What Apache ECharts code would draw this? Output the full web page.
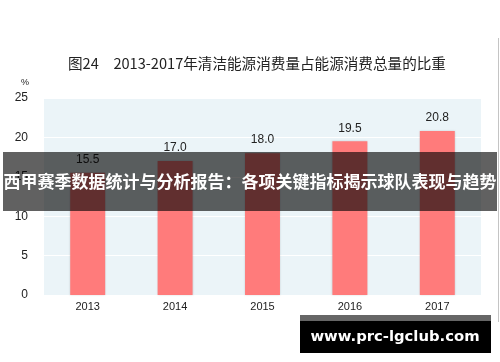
<!DOCTYPE html>
<html>
<head>
<meta charset="utf-8">
<script src="https://cdn.jsdelivr.net/npm/echarts@6/dist/echarts.min.js"></script>
<style>html,body{margin:0;padding:0;background:#fff}#c{width:500px;height:362px}</style>
</head>
<body>
<div id="c"></div>
<script>
const titleText = '图24　2013-2017年清洁能源消费量占能源消费总量的比重';
const categories = ['2013', '2014', '2015', '2016', '2017'];
const shareValues = [15.5, 17.0, 18.0, 19.5, 20.8];
const yTicks = [0, 5, 10, 15, 20, 25];
const unitLabel = '%';
const bannerText = '西甲赛季数据统计与分析报告：各项关键指标揭示球队表现与趋势';
const watermarkText = 'www.prc-lgclub.com';

const chart = echarts.init(document.getElementById('c'), null, {renderer: 'canvas'});
chart.setOption({
  animation: false,
  title: {
    text: titleText, left: 63, top: 51,
    textStyle: {fontSize: 14.6, fontWeight: 'normal', color: '#222', fontFamily: 'Noto Sans CJK SC'}
  },
  grid: {left: 44, right: 19, top: 98, bottom: 67, show: true, backgroundColor: '#ebf4f8', borderWidth: 0},
  xAxis: {
    type: 'category', data: categories,
    axisLine: {show: false}, axisTick: {show: false},
    axisLabel: {color: '#222', fontSize: 11, margin: 6, fontFamily: 'Liberation Sans'}
  },
  yAxis: {
    type: 'value', min: yTicks[0], max: yTicks[yTicks.length - 1], interval: 5,
    axisLine: {show: false}, axisTick: {show: false},
    splitLine: {lineStyle: {color: '#ffffff', width: 1}},
    axisLabel: {color: '#222', fontSize: 12, margin: 16, fontFamily: 'Liberation Sans'}
  },
  series: [{
    type: 'bar', data: shareValues, barWidth: '40%',
    itemStyle: {color: '#ff7b7b', shadowColor: 'rgba(0,0,0,0.15)', shadowBlur: 2},
    label: {show: true, position: 'top', distance: 7, color: '#222', fontSize: 12,
      fontFamily: 'Liberation Sans', formatter: p => p.value.toFixed(1)}
  }],
  graphic: [
    {type: 'text', left: 21, top: 78, style: {text: unitLabel, fontSize: 9, fill: '#222', fontFamily: 'Liberation Sans'}},
    {type: 'rect', shape: {x: 498, y: 38, width: 1, height: 284}, style: {fill: '#c4c4c4'}},
    {type: 'rect', z: 100, shape: {x: 3, y: 152, width: 494, height: 59}, style: {fill: 'rgba(0,0,0,0.62)'}},
    {type: 'text', z: 101, x: 250, y: 182, style: {text: bannerText, fill: '#fff', fontSize: 17, fontWeight: 'bold',
      fontFamily: 'Noto Sans CJK SC', align: 'center', verticalAlign: 'middle'}},
    {type: 'rect', z: 100, shape: {x: 300, y: 315, width: 191, height: 6}, style: {fill: '#666'}},
    {type: 'rect', z: 100, shape: {x: 300, y: 321, width: 191, height: 32}, style: {fill: '#000'}},
    {type: 'text', z: 101, x: 395, y: 337, style: {text: watermarkText, fill: '#fff', fontSize: 14.8, fontWeight: 'bold',
      fontFamily: 'DejaVu Sans', align: 'center', verticalAlign: 'middle'}}
  ]
});
</script>
</body>
</html>
